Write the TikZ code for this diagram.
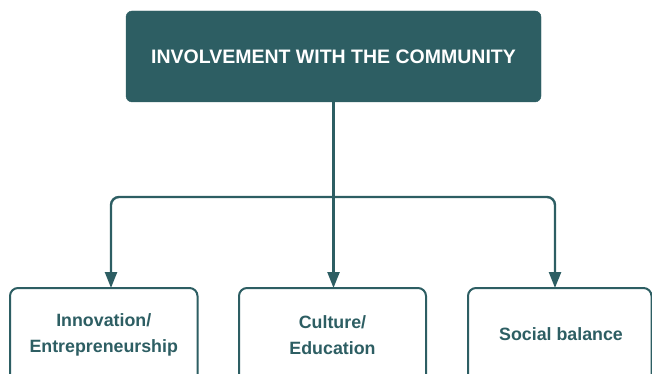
\documentclass[tikz,border=0pt]{standalone}
\usepackage{fontspec}
\setmainfont{Liberation Sans}
\usetikzlibrary{arrows.meta}
\definecolor{teal1}{HTML}{2D5E63}
\tikzset{
  topbox/.style={fill=teal1, draw=teal1, rounded corners=6pt, text=white},
  leafbox/.style={draw=teal1, line width=2pt, rounded corners=8pt, fill=white},
  leaftext/.style={text=teal1, align=center, font=\bfseries\fontsize{17.8}{26}\selectfont},
  conn/.style={draw=teal1, line width=2.4pt, rounded corners=8pt, -{Triangle[length=16pt,width=12pt]}}
}
\begin{document}
\begin{tikzpicture}[x=1pt,y=-1pt]
\useasboundingbox (0,0) rectangle (652,374);
\clip (0,0) rectangle (652,374);
% top box
\path[topbox] (126,11) rectangle (541,102);
\node[text=white, font=\bfseries\fontsize{19.5}{22}\selectfont] (top) at (333.5,57) {INVOLVEMENT WITH THE COMMUNITY};
\coordinate (tb) at (333.5,102);
\coordinate (jn) at (333.5,197);
% leaf boxes
\path[leafbox] (10,288) rectangle (197.5,390);
\path[leafbox] (239,288) rectangle (426,390);
\path[leafbox] (468,288) rectangle (651.5,390);
\coordinate (l1) at (111,288);
\coordinate (l2) at (333.5,288);
\coordinate (l3) at (555,288);
\node[leaftext] (t1) at (103.75,335) {Innovation/\\Entrepreneurship};
\node[leaftext] (t2) at (332.5,335) {Culture/\\Education};
\node[leaftext] (t3) at (561,334) {Social balance};
% connectors
\draw[conn] (tb) -- (l2);
\draw[conn] (jn) -- (111,197) -- (l1);
\draw[conn] (jn) -- (555,197) -- (l3);
\end{tikzpicture}
\end{document}
